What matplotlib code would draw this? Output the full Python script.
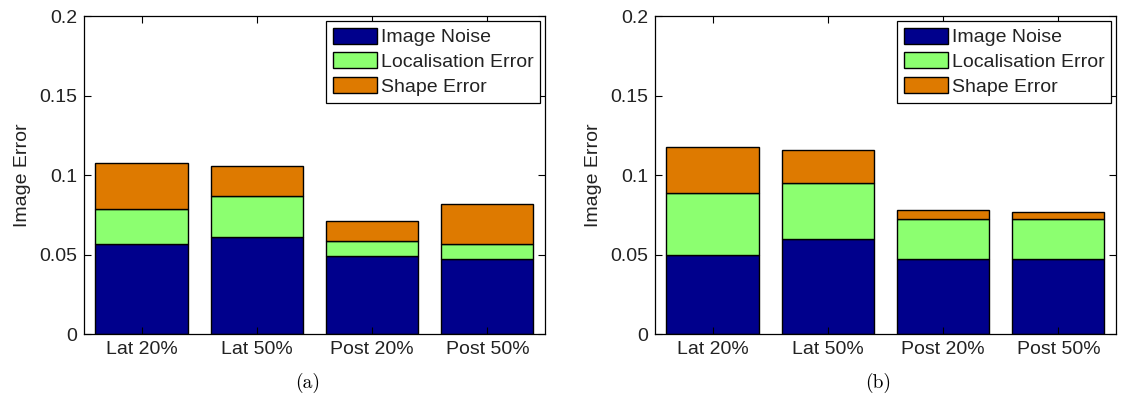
import numpy as np
import matplotlib
matplotlib.use("Agg")
import matplotlib.pyplot as plt

plt.rcParams['font.family'] = ['Liberation Sans', 'DejaVu Sans']

categories = ['Lat 20%', 'Lat 50%', 'Post 20%', 'Post 50%']
series_names = ['Image Noise', 'Localisation Error', 'Shape Error']

# panel (a) component heights
noise_a = [0.0564, 0.0612, 0.0488, 0.0474]
loc_a = [0.0220, 0.0256, 0.0095, 0.0090]
shape_a = [0.0291, 0.0191, 0.0128, 0.0254]

# panel (b) component heights
noise_b = [0.0495, 0.0600, 0.0474, 0.0474]
loc_b = [0.0394, 0.0348, 0.0251, 0.0251]
shape_b = [0.0285, 0.0209, 0.0057, 0.0040]

y_ticks = [0, 0.05, 0.1, 0.15, 0.2]
y_tick_labels = ['0', '0.05', '0.1', '0.15', '0.2']

colors = ['#00008C', '#8CFF70', '#DE7A00']


def plot_panel(ax, parts, caption, cap_x):
    x = np.arange(1, len(categories) + 1)
    bottom = np.zeros(len(categories))
    for vals, name, col in zip(parts, series_names, colors):
        ax.bar(x, vals, 0.8, bottom=bottom, color=col, edgecolor='black',
               linewidth=1.0, label=name)
        bottom += np.array(vals)

    ax.set_xlim(0.5, 4.5)
    ax.set_ylim(0, 0.2)
    ax.set_xticks(x, labels=categories)
    ax.set_yticks(y_ticks, labels=y_tick_labels)
    ax.set_ylabel('Image Error', fontsize=14, color='#222222')
    ax.yaxis.set_label_coords(-0.115, 0.5)
    ax.tick_params(direction='in', length=5, top=True, right=True,
                   labelsize=14, width=0.8, labelcolor='#222222', pad=5)
    for sp in ax.spines.values():
        sp.set_linewidth(0.9)

    leg = ax.legend(loc='upper right', fontsize=14, fancybox=False,
                    framealpha=1, edgecolor='black', borderaxespad=0.25,
                    handlelength=2.25, handleheight=0.9, handletextpad=0.2,
                    labelspacing=0.3, borderpad=0.35)
    leg.get_frame().set_linewidth(0.9)
    for t in leg.get_texts():
        t.set_color('#222222')

    # sub-figure caption under each panel
    fig.text(cap_x, 0.006, caption, ha='center', va='bottom',
             fontsize=14, family='cmr10')


fig = plt.figure(figsize=(11.3, 3.95), dpi=100)
ax_a = fig.add_axes([0.0743, 0.1544, 0.408, 0.805])
ax_b = fig.add_axes([0.5796, 0.1544, 0.408, 0.805])

plot_panel(ax_a, [noise_a, loc_a, shape_a], '(a)', 0.272)
plot_panel(ax_b, [noise_b, loc_b, shape_b], '(b)', 0.777)

fig.savefig('out.png', dpi=100)
